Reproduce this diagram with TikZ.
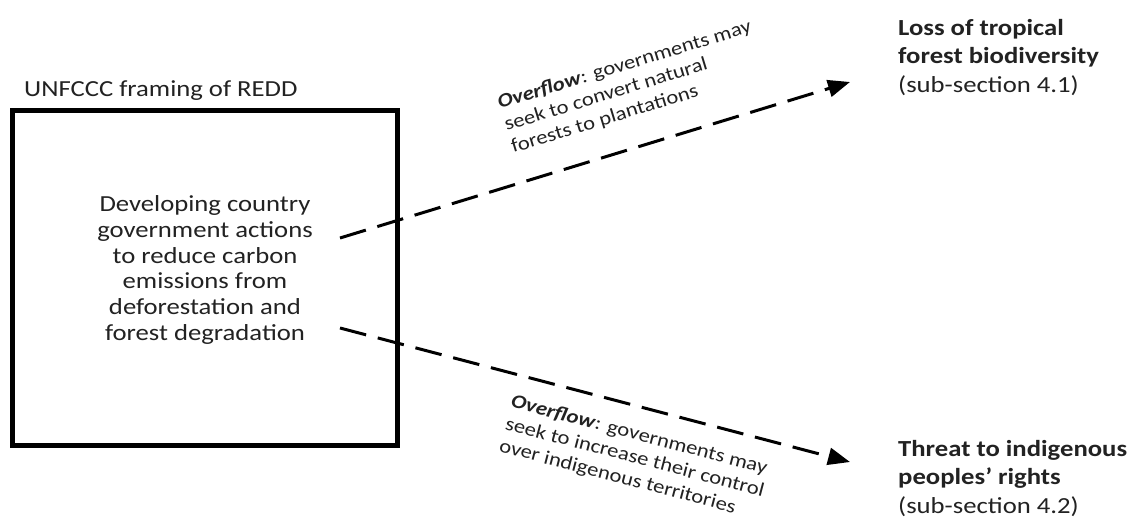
\documentclass[tikz,border=0pt]{standalone}
\usepackage{fontspec}
\setmainfont{Carlito}[FakeStretch=1.16]
\usetikzlibrary{arrows.meta,calc}
\definecolor{txtgray}{HTML}{222222}
\tikzset{
  framebox/.style={draw=black, line width=5pt, inner sep=0pt},
  maintext/.style={align=center, text=txtgray, inner sep=0pt, font=\fontsize{23}{25.7}\selectfont},
  titletext/.style={text=txtgray, inner sep=0pt, font=\fontsize{23}{25}\selectfont},
  outcome/.style={align=left, text=txtgray, inner sep=0pt, anchor=north west, font=\fontsize{23}{28.5}\selectfont},
  flowlabel/.style={align=left, text=txtgray, inner sep=0pt, sloped, font=\fontsize{19.5}{23}\selectfont},
  overflow/.style={line width=3pt, dash pattern=on 27pt off 12pt, -{Triangle[length=22pt,width=17pt]}},
}
\begin{document}
\begin{tikzpicture}[x=1pt,y=-1pt]
\useasboundingbox (0,0) rectangle (1132,524);
\fill[white] (0,0) rectangle (1132,524);
\node[framebox, minimum width=385pt, minimum height=335pt] (box) at (205,278) {};
\node[titletext, anchor=base west] (title) at (24,97) {UNFCCC framing of REDD};
\node[maintext] (txt) at (205,270) {Developing country\\government actions\\to reduce carbon\\emissions from\\deforestation and\\forest degradation};
\node[outcome] (loss) at (898,19) {\textbf{Loss of tropical}\\\textbf{forest biodiversity}\\(sub-section 4.1)};
\node[outcome] (threat) at (898,440) {\textbf{Threat to indigenous}\\\textbf{peoples’ rights}\\(sub-section 4.2)};
\coordinate (s1) at (340,238);
\coordinate (s2) at (340,328);
\coordinate (t1) at (850,82);
\coordinate (t2) at (850,462);
\draw[overflow] (s1) -- (t1) node[flowlabel, pos=0.605, above=26pt] (lab1) {\textbf{\textit{Overflow}}: governments may\\seek to convert natural\\forests to plantations};
\draw[overflow] (s2) -- (t2) node[flowlabel, pos=0.603, below=18pt] (lab2) {\textbf{\textit{Overflow}}: governments may\\seek to increase their control\\over indigenous territories};
\end{tikzpicture}
\end{document}
